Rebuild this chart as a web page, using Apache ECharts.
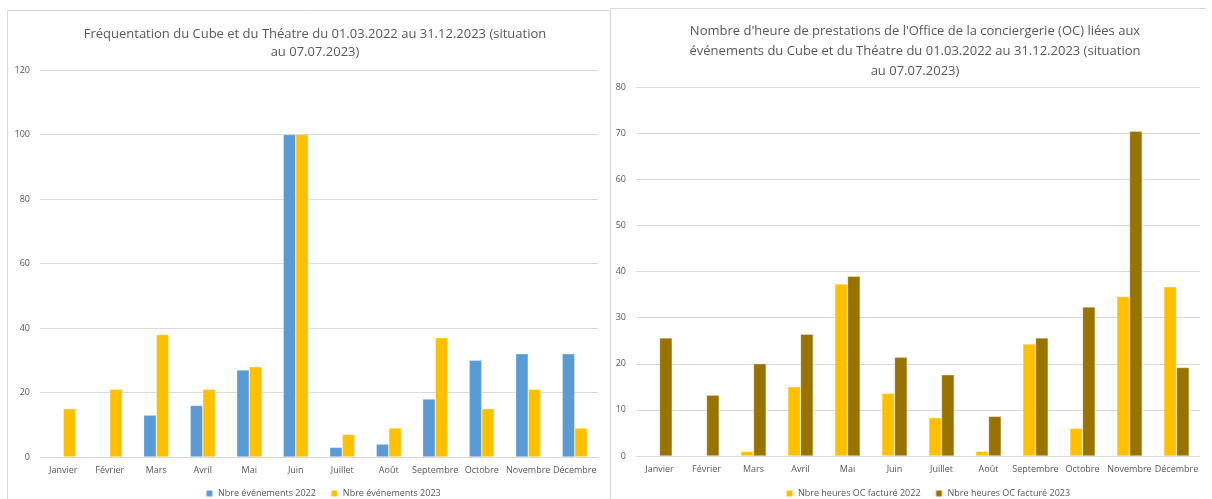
<!DOCTYPE html>
<html>
<head>
<meta charset="utf-8">
<script src="https://cdn.jsdelivr.net/npm/echarts@6/dist/echarts.min.js"></script>
<style>
  html, body { margin: 0; padding: 0; background: #fff; }
  #main { width: 1212px; height: 499px; }
</style>
</head>
<body>
<div id="main"></div>
<script>
// mois (axe des catégories, commun aux deux graphiques)
var mois = ['Janvier', 'Février', 'Mars', 'Avril', 'Mai', 'Juin', 'Juillet', 'Août', 'Septembre', 'Octobre', 'Novembre', 'Décembre'];

// graphique de gauche : nombre d'événements
var evenements2022 = [null, null, 13, 16, 27, 100, 3, 4, 18, 30, 32, 32];
var evenements2023 = [15, 21, 38, 21, 28, 100, 7, 9, 37, 15, 21, 9];

// graphique de droite : heures OC facturées
var heures2022 = [null, null, 1, 15, 37.3, 13.6, 8.3, 1, 24.3, 6, 34.6, 36.7];
var heures2023 = [25.6, 13.2, 20, 26.4, 39, 21.4, 17.6, 8.6, 25.6, 32.3, 70.4, 19.2];

var chart = echarts.init(document.getElementById('main'));

var police = '"Open Sans", "Noto Sans", sans-serif';
var gris = '#595959';
var grille = '#D9D9D9';

function axeMois(idx) {
    return {
        type: 'category', gridIndex: idx, data: mois,
        axisLine: { lineStyle: { color: grille } },
        axisTick: { show: false },
        axisLabel: { color: gris, fontSize: 9, fontFamily: police, margin: 9, interval: 0 }
    };
}
function axeValeurs(idx, max, pas) {
    return {
        type: 'value', gridIndex: idx, min: 0, max: max, interval: pas,
        axisLine: { show: false },
        axisTick: { show: false },
        splitLine: { lineStyle: { color: grille, width: 1 } },
        axisLabel: { color: gris, fontSize: 9, fontFamily: police, margin: 10 }
    };
}
function barres(nom, data, couleur, idx) {
    return {
        name: nom, type: 'bar', xAxisIndex: idx, yAxisIndex: idx, data: data,
        barGap: '0%', barCategoryGap: '46%',
        itemStyle: { color: couleur, borderColor: 'rgba(255,255,255,0.5)', borderWidth: 0.6 }
    };
}

chart.setOption({
    animation: false,
    textStyle: { fontFamily: police },
    title: [
        {
            text: 'Fréquentation du Cube et du Théatre du 01.03.2022 au 31.12.2023 (situation\nau 07.07.2023)',
            left: 310, top: 20, textAlign: 'center',
            textStyle: { color: gris, fontSize: 13, fontWeight: 'normal', lineHeight: 18, fontFamily: police }
        },
        {
            text: "Nombre d'heure de prestations de l'Office de la conciergerie (OC) liées aux\névénements du Cube et du Théatre du 01.03.2022 au 31.12.2023 (situation\nau 07.07.2023)",
            left: 910, top: 16, textAlign: 'center',
            textStyle: { color: gris, fontSize: 13, fontWeight: 'normal', lineHeight: 20, fontFamily: police }
        }
    ],
    legend: [
        {
            data: ['Nbre événements 2022', 'Nbre événements 2023'],
            left: 200, top: 484, itemWidth: 7, itemHeight: 7, itemGap: 14,
            textStyle: { color: gris, fontSize: 9, fontFamily: police }
        },
        {
            data: ['Nbre heures OC facturé 2022', 'Nbre heures OC facturé 2023'],
            left: 780, top: 484, itemWidth: 7, itemHeight: 7, itemGap: 14,
            textStyle: { color: gris, fontSize: 9, fontFamily: police }
        }
    ],
    grid: [
        { left: 40, top: 70, width: 558, height: 387 },
        { left: 636, top: 87, width: 564, height: 369 }
    ],
    xAxis: [axeMois(0), axeMois(1)],
    yAxis: [axeValeurs(0, 120, 20), axeValeurs(1, 80, 10)],
    series: [
        barres('Nbre événements 2022', evenements2022, '#5B9BD5', 0),
        barres('Nbre événements 2023', evenements2023, '#FFC000', 0),
        barres('Nbre heures OC facturé 2022', heures2022, '#FFC000', 1),
        barres('Nbre heures OC facturé 2023', heures2023, '#997300', 1)
    ],
    graphic: [
        // cadres des deux graphiques
        { type: 'polyline', silent: true, shape: { points: [[7.5, 499], [7.5, 10.5], [610, 10.5]] }, style: { stroke: '#D9D9D9', fill: null, lineWidth: 1 } },
        { type: 'polyline', silent: true, shape: { points: [[610.5, 499], [610.5, 8.5], [1206, 8.5]] }, style: { stroke: '#D9D9D9', fill: null, lineWidth: 1 } }
    ]
});
</script>
</body>
</html>
